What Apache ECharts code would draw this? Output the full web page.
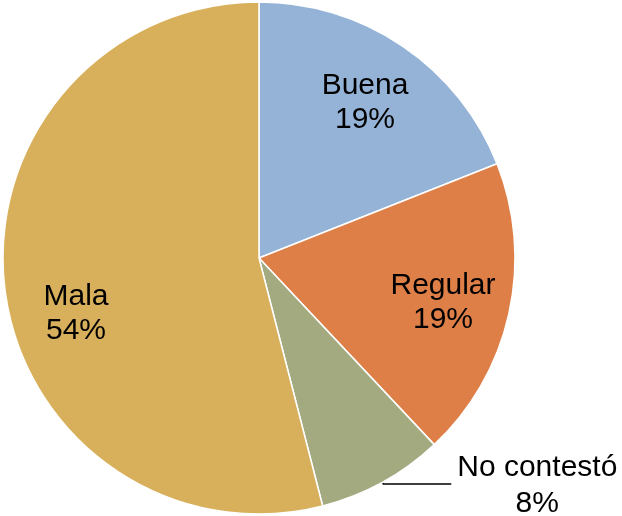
<!DOCTYPE html>
<html>
<head>
<meta charset="utf-8">
<script src="https://cdn.jsdelivr.net/npm/echarts@6/dist/echarts.min.js"></script>
<style>
    html, body { margin: 0; padding: 0; background: #fff; }
    #chart { width: 622px; height: 516px; }
</style>
</head>
<body>
<div id="chart"></div>
<script>
// datos
var categories = ['Buena', 'Regular', 'No contestó', 'Mala'];
var percents = [19, 19, 8, 54];
var colors = ['#95B3D7', '#DE7F48', '#A4AA80', '#D8B05C'];

!function(win){
    var chrt = echarts.init(document.getElementById('chart'));
    var font = '"Liberation Sans", Arial, sans-serif';
    // donde van los textos de dentro (centro del bloque)
    var innerLabelPos = {
        0: [365, 103],
        1: [443, 303],
        3: [76, 314]
    };
    var data = categories.map(function(name, i){
        var item = {
            name: name,
            value: percents[i],
            itemStyle: { color: colors[i] }
        };
        if(i === 2){
            item.label = {
                position: 'outside',
                formatter: '{a|{b}}\n{a|{d}%}',
                padding: [3, 0, 0, 0],
                distanceToLabelLine: 3,
                rich: {
                    a: {
                        width: 166,
                        align: 'center',
                        fontSize: 30,
                        lineHeight: 36,
                        color: '#000',
                        fontFamily: font
                    }
                }
            };
            item.labelLine = {
                show: true,
                length: 2,
                length2: 68,
                lineStyle: { color: '#000', width: 1.5 }
            };
        }
        return item;
    });
    var option = {
        animation: false,
        series: [
            {
                type: 'pie',
                center: [259, 258],
                radius: 256,
                startAngle: 90,
                clockwise: true,
                avoidLabelOverlap: false,
                itemStyle: {
                    borderColor: '#fff',
                    borderWidth: 1.5
                },
                label: {
                    show: true,
                    position: 'inside',
                    formatter: '{b}\n{d}%',
                    fontSize: 30,
                    lineHeight: 34,
                    color: '#000',
                    fontFamily: font
                },
                labelLine: { show: false },
                labelLayout: function(params){
                    var p = innerLabelPos[params.dataIndex];
                    if(!p){
                        return {};
                    }
                    return { x: p[0], y: p[1], align: 'center', verticalAlign: 'middle' };
                },
                emphasis: { disabled: true },
                data: data
            }
        ]
    };
    chrt.setOption(option);
}(window);
</script>
</body>
</html>
